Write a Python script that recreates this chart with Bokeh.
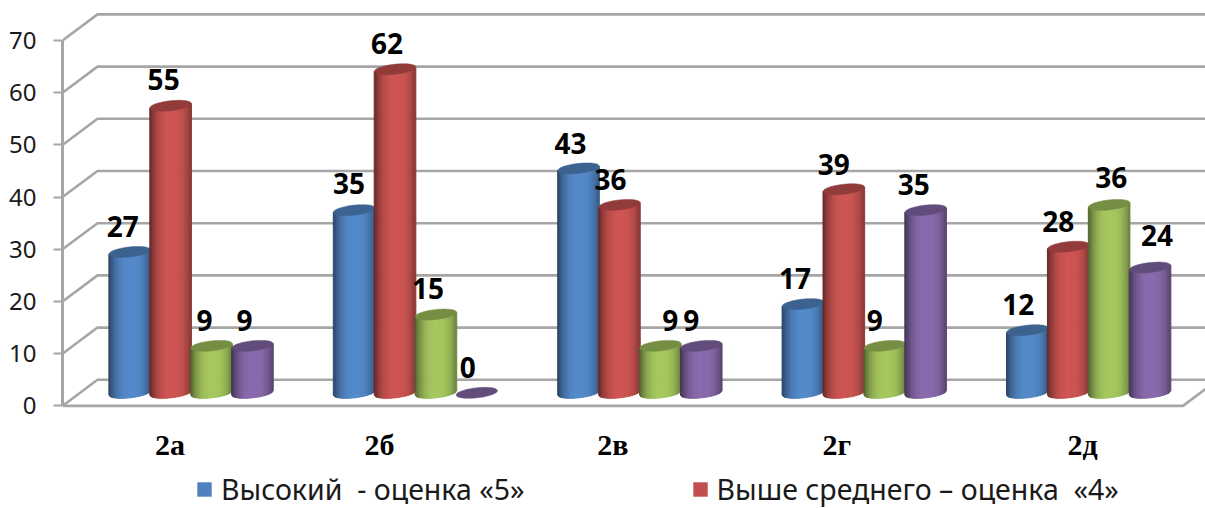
from bokeh.plotting import figure
from bokeh.models import FixedTicker, LinearAxis, Range1d, Legend, LegendItem
from bokeh.core.properties import value
from bokeh.embed import file_html
from bokeh.resources import INLINE
import math

categories = ["2а", "2б", "2в", "2г", "2д"]
series_names = ["Высокий  - оценка «5»", "Выше среднего – оценка  «4»", "Средний", "Низкий"]
high = [27, 35, 43, 17, 12]
above_avg = [55, 62, 36, 39, 28]
average = [9, 15, 9, 9, 36]
low = [9, 0, 9, 35, 24]
y_ticks = [0, 10, 20, 30, 40, 50, 60, 70]
colors = [(79, 129, 189), (192, 80, 77), (155, 187, 89), (128, 100, 162)]
series = [high, above_avg, average, low]

# layout constants (data units: 1 x unit = one category, y unit = one percent)
X0 = -0.573
X1 = X0 + 1143 / 224.4
Y0, Y1 = -19.66, 77.66
DX, DY = 0.156, 5.0          # depth of the pseudo-3D box
STEP, HW = 0.1823, 0.0927    # series spacing, half bar width
BASE, EY, TILT = 2.5, 0.96, 0.42
FLOOR_END = 4.42
GRID = "#a6a6a6"
N = 30

# label nudges in px (labels sit off-centre in the picture)
label_nudge = [[-7, -7, -7, -8], [-5, -8, -8, -9], [-8, -9, 10, -10], [-8, -10, -10, -12], [-9, -10, 2, 7]]
label_lift = [[0, 1, 0, 0], [2, 1, 1, 0], [0, 0, 0, 0], [1, 0, 0, 1], [1, 0, 2, 7]]
cat_nudge = [-21, -36, -27, -27.5, -6]

p = figure(width=1205, height=508, output_backend="svg", toolbar_location=None,
           x_range=Range1d(X0, X1), y_range=Range1d(Y0, Y1), x_axis_location=None, y_axis_location=None,
           min_border_left=62, min_border_right=0, min_border_top=0, min_border_bottom=0,
           outline_line_color=None, background_fill_color=None, border_fill_color="white")
p.grid.visible = False

# walls and floor
for t in y_ticks:
    p.line([X0, X0 + DX, X1], [t, t + DY, t + DY], line_color=GRID, line_width=2.6)
p.line([X0, FLOOR_END, FLOOR_END + DX], [0, 0, DY], line_color=GRID, line_width=2.6)


def shade(c, f):
    return "#%02x%02x%02x" % tuple(min(255, int(v * f)) for v in c)


def bottom_edge(u, y):
    return y + TILT * u - EY * math.sqrt(max(0, 1 - u * u))


def top_edge(u, y):
    return y + TILT * u + EY * math.sqrt(max(0, 1 - u * u))


for j, vals in enumerate(series):
    col = colors[j]
    for i, v in enumerate(vals):
        cx = i + (j - 1.5) * STEP
        top = BASE + v
        xs, ys, fills = [], [], []
        if v > 0:
            for k in range(N):
                a = -1 + 2 * k / N
                b = -1 + 2 * (k + 1) / N
                m = (a + b) / 2
                f = 0.6 + 0.47 * (1 - abs(m - 0.08) ** 2.6)
                xs.append([cx + a * HW, cx + b * HW, cx + b * HW, cx + a * HW])
                ys.append([bottom_edge(a, BASE), bottom_edge(b, BASE), top + TILT * b, top + TILT * a])
                fills.append(shade(col, f))
            p.patches(xs, ys, fill_color=fills, line_color=fills, line_width=1)
        us = [-1 + 2 * k / 40 for k in range(41)]
        ex = [cx + u * HW for u in us] + [cx + u * HW for u in reversed(us)]
        ey = [top_edge(u, top) for u in us] + [bottom_edge(u, top) for u in reversed(us)]
        p.patch(ex, ey, fill_color=shade(col, 0.76), line_color=shade(col, 0.76), line_width=0.5)

# data labels
lx, ly, lt = [], [], []
for j, vals in enumerate(series):
    for i, v in enumerate(vals):
        lx.append(i + (j - 1.5) * STEP + label_nudge[i][j] / 224.4)
        ly.append(BASE + v + 4.8 + label_lift[i][j] / 5.22)
        lt.append(str(v))
p.text(x=lx, y=ly, text=lt, text_font=value("Open Sans"), text_font_style="bold", text_font_size="28px",
       text_color="#000000", text_align="center", text_baseline="middle")

# axes
yax = LinearAxis(ticker=FixedTicker(ticks=y_ticks), bounds=(0, 70))
yax.axis_line_color = GRID
yax.axis_line_width = 3
yax.major_tick_line_color = GRID
yax.major_tick_line_width = 2
yax.major_tick_out = 9
yax.major_tick_in = 0
yax.minor_tick_line_color = None
yax.major_label_standoff = 17
yax.major_label_text_font = "Noto Sans"
yax.major_label_text_font_size = "24px"
yax.major_label_text_color = "#1a1a1a"
p.add_layout(yax, "left")

cat_ticks = [i + cat_nudge[i] / 224.4 for i in range(len(categories))]
xax = LinearAxis(ticker=FixedTicker(ticks=cat_ticks), fixed_location=0,
                 major_label_overrides={t: c for t, c in zip(cat_ticks, categories)})
xax.axis_line_color = None
xax.major_tick_line_color = None
xax.minor_tick_line_color = None
xax.major_label_standoff = 16
xax.major_label_text_font = "Liberation Serif"
xax.major_label_text_font_style = "bold"
xax.major_label_text_font_size = "30px"
xax.major_label_text_color = "#000000"
p.add_layout(xax, "below")

# legend (only the first row of the original legend is visible)
nan = float("nan")
items = []
for j in range(2):
    r = p.vbar(x=[nan], top=[nan], bottom=[nan], width=0.1, fill_color=shade(colors[j], 1), line_color=None)
    items.append(LegendItem(label=series_names[j], renderers=[r]))
leg = Legend(items=items, orientation="horizontal", location=(133, 0), padding=0, margin=0, spacing=166,
             glyph_width=18, glyph_height=18, label_standoff=8, border_line_color=None,
             background_fill_alpha=0, label_text_font="Noto Sans", label_text_font_size="28.5px",
             label_text_color="#1a1a1a")
p.add_layout(leg, "center")

open("out.html", "w").write(file_html(p, INLINE))
